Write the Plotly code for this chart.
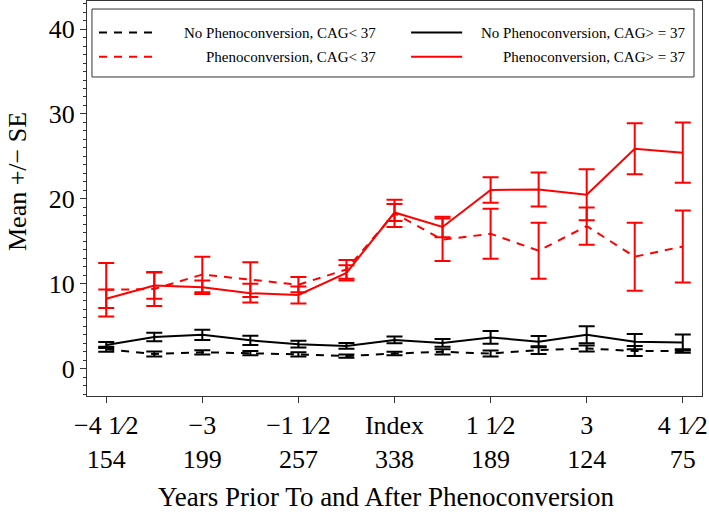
import plotly.graph_objects as go

# ---------------- data ----------------
years = [-4.5, -3.75, -3, -2.25, -1.5, -0.75, 0, 0.75, 1.5, 2.25, 3, 3.75, 4.5]

tick_years = [-4.5, -3, -1.5, 0, 1.5, 3, 4.5]
tick_labels = ["\u22124 1\u20442", "\u22123", "\u22121 1\u20442", "Index", "1 1\u20442", "3", "4 1\u20442"]
tick_counts = ["154", "199", "257", "338", "189", "124", "75"]

no_pheno_lt37_mean = [2.3, 1.75, 1.95, 1.85, 1.7, 1.5, 1.8, 2.0, 1.8, 2.2, 2.4, 2.1, 2.1]
no_pheno_lt37_se = [0.3, 0.3, 0.25, 0.25, 0.25, 0.2, 0.2, 0.3, 0.35, 0.45, 0.35, 0.6, 0.2]

no_pheno_ge37_mean = [2.8, 3.75, 4.0, 3.35, 2.9, 2.7, 3.4, 3.05, 3.7, 3.2, 4.0, 3.2, 3.1]
no_pheno_ge37_se = [0.35, 0.5, 0.6, 0.55, 0.4, 0.35, 0.4, 0.45, 0.75, 0.65, 1.0, 0.9, 0.95]

pheno_lt37_mean = [9.3, 9.4, 11.1, 10.5, 9.9, 11.7, 18.3, 15.2, 15.9, 13.9, 16.8, 13.2, 14.4]
pheno_lt37_se = [3.15, 2.0, 2.1, 2.05, 0.9, 1.1, 1.6, 2.5, 2.95, 3.3, 2.2, 4.0, 4.25]

pheno_ge37_mean = [8.25, 9.8, 9.6, 8.9, 8.7, 11.3, 18.4, 16.7, 21.05, 21.1, 20.5, 25.9, 25.45]
pheno_ge37_se = [1.1, 1.55, 0.8, 1.1, 1.0, 0.9, 1.0, 1.2, 1.5, 2.0, 3.0, 3.0, 3.55]

series_names = [
    "No Phenoconversion, CAG< 37",
    "No Phenoconversion, CAG> = 37",
    "Phenoconversion, CAG< 37",
    "Phenoconversion, CAG> = 37",
]

# ---------------- styles ----------------
FONT = "Liberation Serif, Times New Roman, serif"
BLACK = "#000000"
RED = "#ff0000"
DASH = "8px,7px"

styles = [
    dict(color=BLACK, dash=DASH),
    dict(color=BLACK, dash="solid"),
    dict(color=RED, dash=DASH),
    dict(color=RED, dash="solid"),
]
means = [no_pheno_lt37_mean, no_pheno_ge37_mean, pheno_lt37_mean, pheno_ge37_mean]
ses = [no_pheno_lt37_se, no_pheno_ge37_se, pheno_lt37_se, pheno_ge37_se]

fig = go.Figure()
for name, st, m, s in zip(series_names, styles, means, ses):
    fig.add_trace(go.Scatter(
        x=years, y=m, name=name, mode="lines",
        line=dict(color=st["color"], dash=st["dash"], width=2),
        error_y=dict(type="data", array=s, visible=True, color=st["color"],
                     thickness=2, width=8),
        showlegend=False,
    ))

# ---------------- manual legend ----------------
fig.add_shape(type="rect", xref="paper", yref="paper",
              x0=0.0081, x1=0.987, y0=0.8076, y1=0.9797,
              line=dict(color="#333333", width=1), fillcolor="white", layer="above")
legend_pos = [  # (sample x0, sample x1, text right x, row y)
    (0.0195, 0.109, 0.473, 0.92),
    (0.527, 0.61, 0.976, 0.92),
    (0.0195, 0.109, 0.473, 0.859),
    (0.527, 0.61, 0.976, 0.859),
]
for name, st, (sx0, sx1, tx, ry) in zip(series_names, styles, legend_pos):
    fig.add_shape(type="line", xref="paper", yref="paper",
                  x0=sx0, x1=sx1, y0=ry, y1=ry, layer="above",
                  line=dict(color=st["color"], dash=st["dash"], width=2))
    fig.add_annotation(xref="paper", yref="paper", x=tx, y=ry, text=name,
                       showarrow=False, xanchor="right", yanchor="middle",
                       font=dict(family=FONT, size=15, color=BLACK))

# ---------------- axis titles ----------------
fig.add_annotation(xref="paper", yref="paper", x=-0.112, y=0.542,
                   text="Mean +/\u2212 SE", textangle=-90, showarrow=False,
                   xanchor="center", yanchor="middle",
                   font=dict(family=FONT, size=26, color=BLACK))
fig.add_annotation(xref="paper", yref="paper", x=0.487, y=-0.256,
                   text="Years Prior To and After Phenoconversion", showarrow=False,
                   xanchor="center", yanchor="middle",
                   font=dict(family=FONT, size=27, color=BLACK))

fig.update_layout(
    width=709, height=514,
    margin=dict(l=87, r=7, t=1, b=118),
    paper_bgcolor="white", plot_bgcolor="white",
    font=dict(family=FONT, size=26, color=BLACK),
)
fig.update_xaxes(
    range=[-4.8, 4.8], tickmode="array", tickvals=tick_years,
    ticktext=[f"{a}<br>{b}" for a, b in zip(tick_labels, tick_counts)],
    ticks="outside", ticklen=6, tickwidth=1, tickcolor="#333333",
    showline=True, linecolor="#333333", linewidth=1, mirror=True,
    showgrid=False, zeroline=False,
    tickfont=dict(family=FONT, size=26, color=BLACK),
)
fig.update_yaxes(
    range=[-3.2, 43.3], tickmode="array", tickvals=[0, 10, 20, 30, 40],
    ticks="outside", ticklen=6, tickwidth=1, tickcolor="#333333",
    minor=dict(dtick=1, ticks="outside", ticklen=3, tickcolor="#333333"),
    showline=True, linecolor="#333333", linewidth=1, mirror=True,
    showgrid=False, zeroline=False,
    tickfont=dict(family=FONT, size=26, color=BLACK),
)

fig.write_html("out.html", config={"displayModeBar": False},
               post_script="document.body.style.margin='0px';")
